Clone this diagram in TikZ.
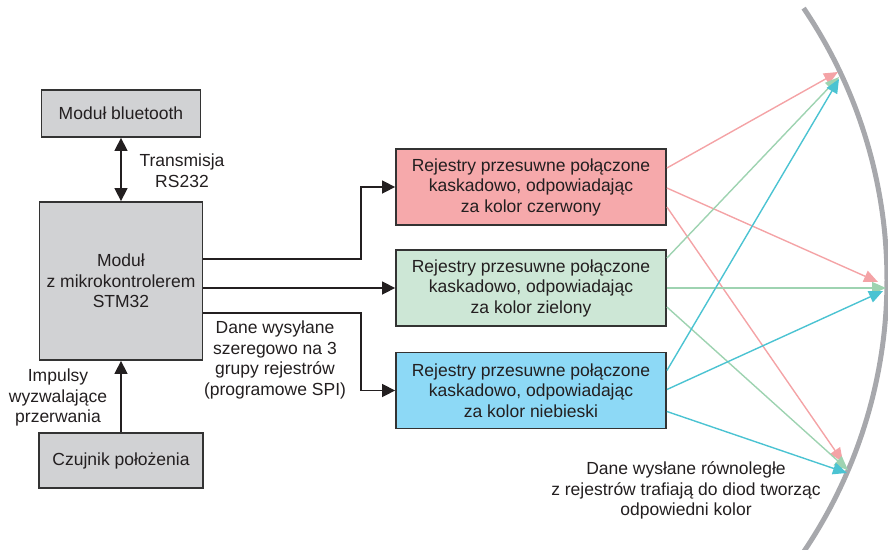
\documentclass[tikz,border=0pt]{standalone}
\usepackage{fontspec}
\setmainfont{Liberation Sans}
\usetikzlibrary{arrows.meta,calc}
\definecolor{txt}{HTML}{231F20}
\definecolor{boxgray}{HTML}{D1D2D4}
\definecolor{edge}{HTML}{333333}
\definecolor{redfill}{HTML}{F6A9AB}
\definecolor{greenfill}{HTML}{CDE7D6}
\definecolor{bluefill}{HTML}{8DD9F6}
\definecolor{redline}{HTML}{F4A3A6}
\definecolor{greenline}{HTML}{9ED3B1}
\definecolor{blueline}{HTML}{4BC3D2}
\definecolor{arcgray}{HTML}{A7A8AC}
\begin{document}
\begin{tikzpicture}[x=1pt,y=-1pt,
  font=\fontsize{17.5}{20.5}\selectfont, text=txt,
  box/.style={draw=edge, line width=1.8pt, align=center, inner sep=0pt},
  graybox/.style={box, fill=boxgray},
  arr/.style={draw=txt, line width=1.5pt, -{Triangle[length=13pt,width=13pt]}},
  biarr/.style={draw=txt, line width=1.5pt, {Triangle[length=13pt,width=13pt]}-{Triangle[length=13pt,width=13pt]}},
  lbl/.style={align=center, inner sep=0pt},
  colarr/.style={line width=1.4pt, -{Triangle[length=14pt,width=12pt]}},
  rl/.style={colarr, draw=redline},
  gl/.style={colarr, draw=greenline},
  bl/.style={colarr, draw=blueline}
]
\useasboundingbox (0,0) rectangle (888,549);

% grey arc (the display)
\begin{scope}
\clip (0,0) rectangle (888,549);
\draw[arcgray, line width=5pt] plot[domain=-34.1:35, samples=80] ({402+485*cos(\x)}, {280+485*sin(\x)});
\end{scope}

% left blocks
\node[graybox, minimum width=159pt, minimum height=47pt] (bt) at (121,113.5) {Moduł bluetooth};
\node[graybox, minimum width=163pt, minimum height=158pt] (stm) at (121,281) {Moduł\\z mikrokontrolerem\\STM32};
\node[graybox, minimum width=164pt, minimum height=55pt] (sens) at (121,460.5) {Czujnik położenia};

% right blocks
\node[box, fill=redfill, minimum width=270pt, minimum height=76pt] (red) at (531,187) {Rejestry przesuwne połączone\\kaskadowo, odpowiadając\\za kolor czerwony};
\node[box, fill=greenfill, minimum width=270pt, minimum height=76pt] (green) at (531,288) {Rejestry przesuwne połączone\\kaskadowo, odpowiadając\\za kolor zielony};
\node[box, fill=bluefill, minimum width=270pt, minimum height=76pt] (blue) at (531,390.5) {Rejestry przesuwne połączone\\kaskadowo, odpowiadając\\za kolor niebieski};

% labels
\node[lbl] (l1) at (182,170.5) {Transmisja\\RS232};
\node[lbl] (l2) at (58,397.5) {Impulsy\\wyzwalające\\przerwania};
\node[lbl] (l3) at (275,360) {Dane wysyłane\\szeregowo na 3\\grupy rejestrów\\(programowe SPI)};
\node[lbl] (l4) at (686,490.5) {Dane wysłane równoległe\\z rejestrów trafiają do diod tworząc\\odpowiedni kolor};

% black connectors
\draw[biarr] (bt.south) -- (stm.north);
\draw[arr] (sens.north) -- (stm.south);
\draw[arr] ([yshift=22pt]stm.east) -| ([xshift=-34pt]red.west) -- (red.west);
\draw[arr] (green.west -| stm.east) -- (green.west);
\draw[arr] ([yshift=-32pt]stm.east) -| ([xshift=-34pt]blue.west) -- (blue.west);

% targets on the display
\coordinate (R1) at (838,72);
\coordinate (G1) at (839,77);
\coordinate (B1) at (839,79);
\coordinate (R2) at (878,282);
\coordinate (G2) at (886,288);
\coordinate (B2) at (883,291);
\coordinate (R3) at (843,462);
\coordinate (G3) at (848,470);
\coordinate (B3) at (847,473);

% coloured parallel outputs
\draw[rl] ([yshift=19pt]red.east) -- (R1);
\draw[rl] ([yshift=-1pt]red.east) -- (R2);
\draw[rl] ([yshift=-20pt]red.east) -- (R3);
\draw[gl] ([yshift=30pt]green.east) -- (G1);
\draw[gl] (green.east) -- (G2);
\draw[gl] ([yshift=-19pt]green.east) -- (G3);
\draw[bl] ([yshift=20pt]blue.east) -- (B1);
\draw[bl] ([yshift=1pt]blue.east) -- (B2);
\draw[bl] ([yshift=-21pt]blue.east) -- (B3);
\end{tikzpicture}
\end{document}
